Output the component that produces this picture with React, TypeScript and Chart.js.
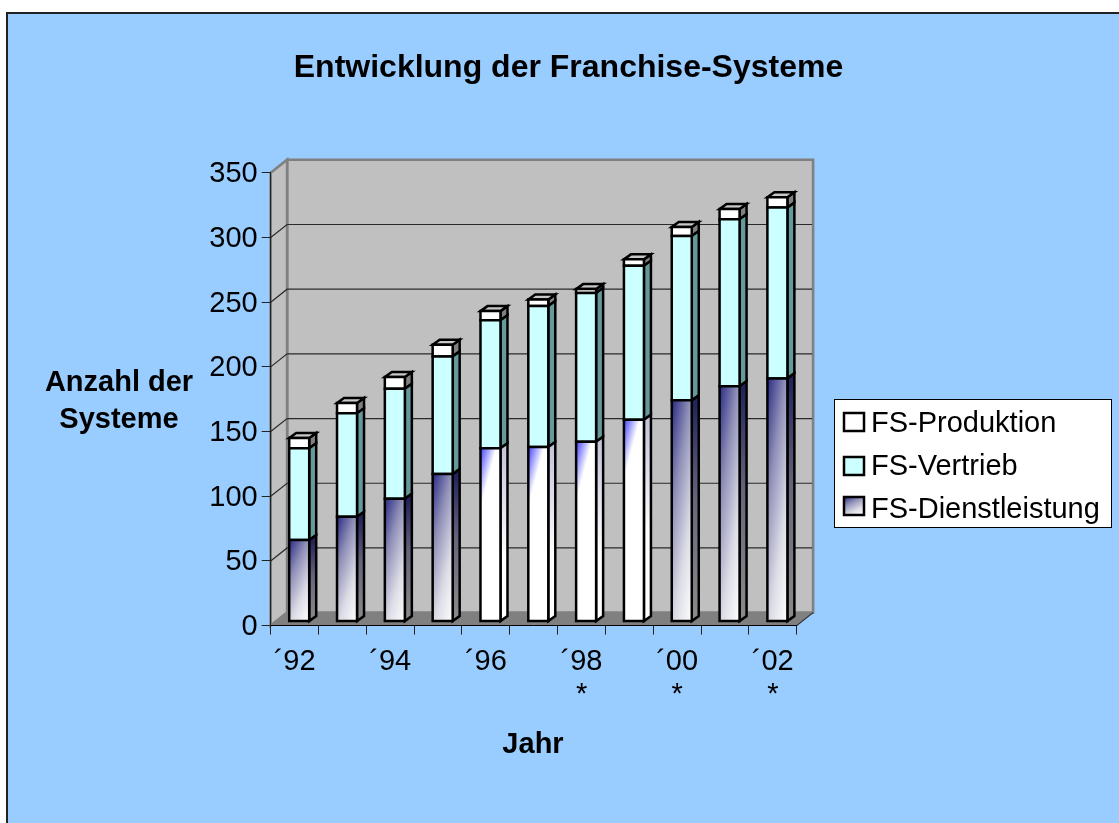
import React, { useEffect, useRef } from "react";
import { Chart, registerables } from "chart.js";

Chart.register(...registerables);

const categories: (string | string[])[] = ["´92", "", "´94", "", "´96", "", ["´98", "*"], "", ["´00", "*"], "", ["´02", "*"]];
const dienstleistung = [63, 81, 95, 114, 134, 135, 139, 156, 171, 182, 188];
const vertrieb = [71, 80, 85, 91, 99, 109, 115, 119, 127, 129, 132];
const produktion = [8, 8, 9, 9, 7, 5, 3, 5, 7, 8, 8];
const gradientStyles = ["dark", "dark", "dark", "dark", "vivid", "vivid", "vivid", "vivid", "dark", "dark", "dark"];
const titleText = "Entwicklung der Franchise-Systeme";
const yTitleLines = ["Anzahl der", "Systeme"];
const xTitleText = "Jahr";

const FONT = '"Liberation Sans", Arial, sans-serif';
const AREA = { left: 270.7, right: 796.7, top: 172.8, bottom: 625.6 };
const DEPTH = { x: 16.4, y: -13 };
const BAR_SHIFT = { x: 4.6, y: -4 };
const BAR_DEPTH = { x: 7, y: -5 };

function label(ctx: CanvasRenderingContext2D, text: string, x: number, y: number, font: string, align: CanvasTextAlign) {
  ctx.save();
  ctx.font = font;
  ctx.fillStyle = "#000";
  ctx.textAlign = align;
  ctx.textBaseline = "alphabetic";
  ctx.fillText(text, x, y);
  ctx.restore();
}

function poly(ctx: CanvasRenderingContext2D, pts: number[][]) {
  ctx.beginPath();
  pts.forEach((p, i) => (i ? ctx.lineTo(p[0], p[1]) : ctx.moveTo(p[0], p[1])));
  ctx.closePath();
}

function diagGradient(ctx: CanvasRenderingContext2D, x0: number, y0: number, gx: number, gy: number) {
  const m = gx * gx + gy * gy;
  return ctx.createLinearGradient(x0, y0, x0 + gx / m, y0 + gy / m);
}

function darkFront(ctx: CanvasRenderingContext2D, x0: number, y0: number, w: number, h: number) {
  const g = diagGradient(ctx, x0, y0, 0.36 / w, 0.64 / h);
  g.addColorStop(0, "#2a2a85");
  g.addColorStop(0.33, "#9090b8");
  g.addColorStop(0.68, "#dcdce6");
  g.addColorStop(1, "#ffffff");
  return g;
}

const walls3d = {
  id: "walls3d",
  beforeDraw(chart: any) {
    const ctx: CanvasRenderingContext2D = chart.ctx;
    const { left, right, top, bottom } = chart.chartArea;
    const d = DEPTH;
    ctx.save();
    ctx.fillStyle = "#99CCFF";
    ctx.fillRect(7, 13, 1112, 810);
    ctx.strokeStyle = "#222";
    ctx.lineWidth = 2;
    ctx.beginPath();
    ctx.moveTo(7, 823);
    ctx.lineTo(7, 13);
    ctx.lineTo(1119, 13);
    ctx.stroke();

    const yTop = top + d.y;
    const yFloor = bottom + d.y;
    ctx.fillStyle = "#C0C0C0";
    ctx.strokeStyle = "#808080";
    ctx.lineWidth = 2.6;
    poly(ctx, [[left + d.x, yTop], [right + d.x, yTop], [right + d.x, yFloor], [left + d.x, yFloor]]);
    ctx.fill();
    ctx.stroke();
    poly(ctx, [[left, top], [left + d.x, yTop], [left + d.x, yFloor], [left, bottom]]);
    ctx.fill();
    ctx.stroke();
    ctx.fillStyle = "#808080";
    poly(ctx, [[left, bottom], [right, bottom], [right + d.x, yFloor], [left + d.x, yFloor]]);
    ctx.fill();

    const yScale = chart.scales.y;
    ctx.strokeStyle = "#2a2a2a";
    ctx.lineWidth = 1.2;
    yScale.ticks.forEach((t: any) => {
      const y = yScale.getPixelForValue(t.value);
      if (t.value === 350) return;
      ctx.beginPath();
      if (t.value !== 0) {
        ctx.moveTo(left, y);
        ctx.lineTo(left + d.x, y + d.y);
        ctx.lineTo(right + d.x - 1, y + d.y);
      } else {
        ctx.moveTo(right, y);
        ctx.lineTo(right + d.x, y + d.y);
      }
      ctx.stroke();
    });
    ctx.restore();
  },
  beforeDatasetDraw(chart: any, args: any) {
    const ctx: CanvasRenderingContext2D = chart.ctx;
    const i = args.index;
    const meta = args.meta;
    const last = chart.data.datasets.length - 1;
    ctx.save();
    ctx.lineWidth = 2.5;
    ctx.strokeStyle = "#000";
    ctx.lineJoin = "miter";
    meta.data.forEach((el: any, c: number) => {
      const w = el.width;
      const x0 = el.x - w / 2 + BAR_SHIFT.x;
      const x1 = x0 + w;
      const yT = el.y + BAR_SHIFT.y;
      const yB = el.base + BAR_SHIFT.y;
      const h = yB - yT;
      const dx = BAR_DEPTH.x;
      const dy = BAR_DEPTH.y;
      const vivid = gradientStyles[c] === "vivid";
      let front: any;
      let side: any;
      if (i === 2) {
        front = "#FFFFFF";
        side = "#808080";
      } else if (i === 1) {
        front = "#CCFFFF";
        side = "#669999";
      } else if (vivid) {
        const g = diagGradient(ctx, x0, yT, 1 / 16, 1 / 60);
        g.addColorStop(0, "#4040ff");
        g.addColorStop(1, "#ffffff");
        front = g;
        const s = ctx.createLinearGradient(0, yT, 0, yT + 110);
        s.addColorStop(0, "#c4c4dc");
        s.addColorStop(1, "#ffffff");
        side = s;
      } else {
        front = darkFront(ctx, x0, yT, w, h);
        const s = ctx.createLinearGradient(0, yT, 0, yB);
        s.addColorStop(0, "#22225c");
        s.addColorStop(0.45, "#66667c");
        s.addColorStop(1, "#8c8c8c");
        side = s;
      }
      ctx.fillStyle = side;
      poly(ctx, [[x1, yT], [x1 + dx, yT + dy], [x1 + dx, yB + dy], [x1, yB]]);
      ctx.fill();
      ctx.stroke();
      if (i === last) {
        ctx.fillStyle = "#C8C8C8";
        poly(ctx, [[x0, yT], [x0 + dx, yT + dy], [x1 + dx, yT + dy], [x1, yT]]);
        ctx.fill();
        ctx.stroke();
      }
      ctx.fillStyle = front;
      poly(ctx, [[x0, yT], [x1, yT], [x1, yB], [x0, yB]]);
      ctx.fill();
      ctx.stroke();
    });
    ctx.restore();
    return false;
  },
  afterDraw(chart: any) {
    const ctx: CanvasRenderingContext2D = chart.ctx;
    const textFont = `29px ${FONT}`;
    const boldFont = `bold 29px ${FONT}`;
    label(ctx, titleText, 568.5, 77, `bold 32px ${FONT}`, "center");
    yTitleLines.forEach((line, j) => label(ctx, line, 119, 391 + j * 37, boldFont, "center"));
    label(ctx, xTitleText, 533, 753, boldFont, "center");

    // legend, listed from the top of the stack down
    const entries = chart.data.datasets.map((d: any, i: number) => ({ label: d.label, i })).reverse();
    ctx.save();
    ctx.fillStyle = "#fff";
    ctx.fillRect(834.5, 399.5, 277, 128);
    ctx.strokeStyle = "#000";
    ctx.lineWidth = 1;
    ctx.strokeRect(834.5, 399.5, 277, 128);
    const swatchY = [413, 457, 497];
    const textY = [432, 475, 518];
    entries.forEach((e: any, k: number) => {
      const y = swatchY[k];
      let fill: any = "#fff";
      if (e.i === 1) fill = "#CCFFFF";
      if (e.i === 0) fill = darkFront(ctx, 844, y, 20, 18);
      ctx.fillStyle = fill;
      ctx.strokeStyle = "#000";
      ctx.lineWidth = 2.5;
      ctx.fillRect(844, y, 20, 18);
      ctx.strokeRect(844, y, 20, 18);
      label(ctx, e.label, 871, textY[k], textFont, "left");
    });
    ctx.restore();
  },
};

export default function App() {
  const ref = useRef<HTMLCanvasElement>(null);
  useEffect(() => {
    const tickFont = { family: FONT, size: 29, lineHeight: 1.17 };
    const chart = new Chart(ref.current!, {
      type: "bar",
      data: {
        labels: categories as any,
        datasets: [
          { label: "FS-Dienstleistung", data: dienstleistung, backgroundColor: "#8080B0", stack: "s" },
          { label: "FS-Vertrieb", data: vertrieb, backgroundColor: "#CCFFFF", stack: "s" },
          { label: "FS-Produktion", data: produktion, backgroundColor: "#FFFFFF", stack: "s" },
        ],
      },
      options: {
        responsive: false,
        animation: false,
        layout: {
          padding: {
            left: AREA.left - 80,
            right: 1119 - AREA.right,
            top: AREA.top,
            bottom: 823 - AREA.bottom - 90,
          },
        },
        plugins: { legend: { display: false }, title: { display: false }, tooltip: { enabled: false } },
        datasets: { bar: { barThickness: 20 } },
        scales: {
          x: {
            stacked: true,
            afterFit: (s: any) => {
              s.height = 90;
            },
            border: { color: "#000", width: 1 },
            grid: { drawOnChartArea: false, drawTicks: true, tickLength: 9, color: "#222" },
            ticks: { autoSkip: false, maxRotation: 0, minRotation: 0, color: "#000", font: tickFont, padding: 10 },
          },
          y: {
            stacked: true,
            min: 0,
            max: 350,
            afterFit: (s: any) => {
              s.width = 80;
            },
            border: { color: "#222", width: 1 },
            grid: { drawOnChartArea: false, drawTicks: true, tickLength: 9, color: "#222" },
            ticks: { stepSize: 50, color: "#000", font: { family: FONT, size: 29 }, padding: 4, labelOffset: 1.5 },
          },
        },
      } as any,
      plugins: [walls3d as any],
    });
    return () => chart.destroy();
  }, []);
  return (
    <canvas
      ref={ref}
      width={1119}
      height={823}
      style={{ position: "absolute", left: 0, top: 0, width: 1119, height: 823, display: "block" }}
    />
  );
}
